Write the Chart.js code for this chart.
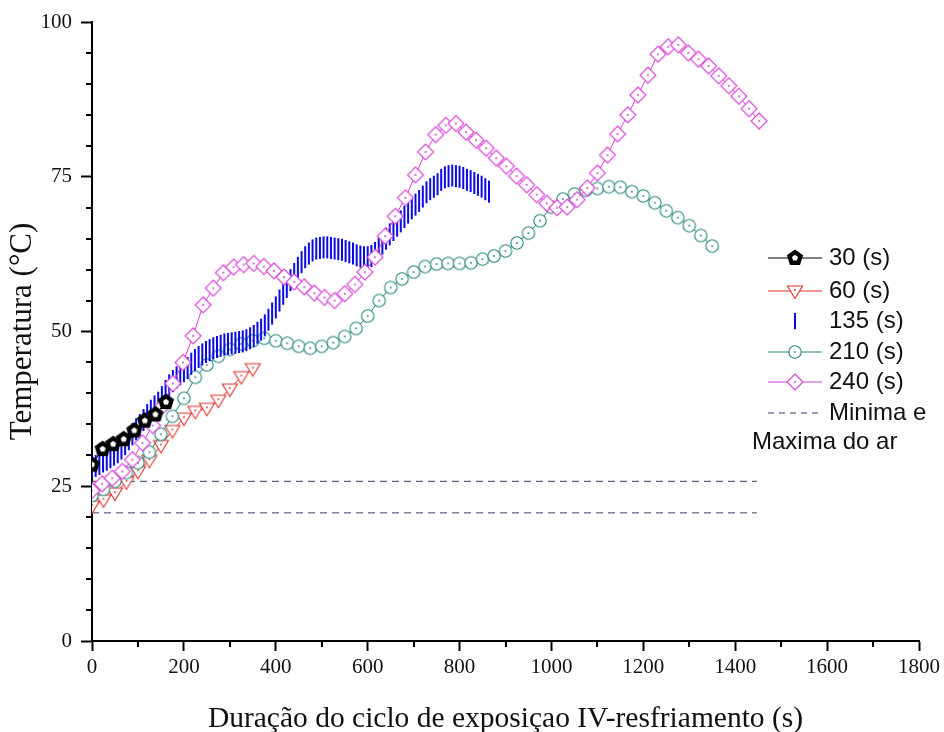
<!DOCTYPE html>
<html><head><meta charset="utf-8">
<script src="https://cdn.jsdelivr.net/npm/chart.js@4.4.1/dist/chart.umd.min.js"></script>
<style>html,body{margin:0;padding:0;background:#fff}#wrap{width:944px;height:732px;position:relative}</style>
</head><body><div id="wrap"><canvas id="c" width="944" height="732"></canvas></div>
<script>
// ---- data ----
const xTitle = 'Duração do ciclo de exposiçao IV-resfriamento (s)';
const yTitle = 'Temperatura (°C)';
const seriesLabels = ['30 (s)', '60 (s)', '135 (s)', '210 (s)', '240 (s)', 'Minima e Maxima do ar'];

const t30 = [0, 23, 46, 69, 92, 115, 138, 161];
const v30 = [28.5, 31.0, 31.8, 32.6, 34.0, 35.6, 36.6, 38.6];

const t60 = [0, 25, 50, 75, 100, 125, 150, 175, 200, 225, 250, 275, 300, 325, 350];
const v60 = [21.8, 22.8, 23.9, 25.7, 27.4, 29.2, 31.6, 34.0, 36.0, 37.1, 37.6, 38.9, 40.7, 42.7, 44.0];

const t135 = [0,8,16,24,32,40,48,56,64,72,80,88,96,104,112,120,128,136,144,152,160,168,176,184,192,200,208,216,224,232,240,248,256,264,272,280,288,296,304,312,320,328,336,344,352,360,368,376,384,392,400,408,416,424,432,440,448,456,464,472,480,488,496,504,512,520,528,536,544,552,560,568,576,584,592,600,608,616,624,632,640,648,656,664,672,680,688,696,704,712,720,728,736,744,752,760,768,776,784,792,800,808,816,824,832,840,848,856,864];
const v135 = [28.0,28.3,28.6,29.0,29.3,29.7,30.1,30.5,31.1,31.8,32.6,33.4,34.2,34.9,35.7,36.5,37.2,37.9,38.5,39.4,40.4,41.3,42.0,42.6,43.1,43.6,44.1,44.8,45.4,45.9,46.3,46.7,47.0,47.3,47.5,47.7,47.9,48.0,48.1,48.2,48.3,48.4,48.6,48.9,49.3,49.8,50.3,51.0,51.9,52.9,53.9,55.0,56.1,57.2,58.3,59.3,60.3,61.2,62.0,62.6,63.1,63.4,63.5,63.6,63.6,63.5,63.4,63.3,63.2,63.0,62.8,62.6,62.3,62.1,62.0,62.0,62.2,62.7,63.4,64.2,65.0,65.7,66.4,67.1,67.8,68.5,69.2,69.9,70.5,71.1,71.8,72.5,73.0,73.4,73.8,74.5,74.9,75.1,75.2,75.1,75.0,74.8,74.5,74.3,74.0,73.7,73.4,73.0,72.6];

const t210 = [0,25,50,75,100,125,150,175,200,225,250,275,300,325,350,375,400,425,450,475,500,525,550,575,600,625,650,675,700,725,750,775,800,825,850,875,900,925,950,975,1000,1025,1050,1075,1100,1125,1150,1175,1200,1225,1250,1275,1300,1325,1350];
const v210 = [23.5,24.5,25.8,27.2,28.8,30.5,33.4,36.3,39.2,42.6,44.6,46.0,47.1,48.0,48.5,48.9,48.5,48.1,47.6,47.3,47.6,48.2,49.2,50.5,52.5,55.0,57.1,58.5,59.6,60.5,60.9,61.0,61.0,61.1,61.7,62.2,63.0,64.3,65.9,67.9,70.1,71.4,72.2,72.8,73.1,73.4,73.3,72.6,71.9,70.8,69.5,68.4,67.1,65.5,63.8];

const t240 = [0,22,44,66,88,110,132,154,176,198,220,242,264,286,308,330,352,374,396,418,440,462,484,506,528,550,572,594,616,638,660,682,704,726,748,770,792,814,836,858,880,902,924,946,968,990,1012,1034,1056,1078,1100,1122,1144,1166,1188,1210,1232,1254,1276,1298,1320,1342,1364,1386,1408,1430,1452];
const v240 = [24.3,25.4,26.3,27.4,29.3,32.0,34.8,38.0,41.6,45.0,49.3,54.3,57.0,59.5,60.4,60.8,61.0,60.5,59.8,58.8,58.0,57.2,56.2,55.5,55.0,56.1,57.6,59.6,62.0,65.4,68.6,71.6,75.3,79.0,81.8,83.3,83.6,82.2,80.9,79.6,78.0,76.7,75.1,73.7,72.1,70.7,70.0,70.1,71.3,73.2,75.6,78.5,81.9,85.0,88.2,91.4,94.8,96.0,96.3,95.0,94.0,92.9,91.3,89.7,88.0,86.0,84.0];

const airT = [0, 1447];
const airMax = [25.8, 25.8];
const airMin = [20.7, 20.7];

const xTickValues = [0, 200, 400, 600, 800, 1000, 1200, 1400, 1600, 1800];
const yTickValues = [0, 25, 50, 75, 100];

// ---- styles ----
const COL = {k:'#000000', r:'#e2302a', b:'#0a0ae8', t:'#27857d', m:'#d640d6', d:'#3b3b6e'};
const pts = (t, v) => t.map((x, i) => ({x, y: v[i]}));

function marker(kind, color) {
  const s = 24, c = document.createElement('canvas');
  c.width = s; c.height = s;
  const g = c.getContext('2d'), m = s / 2;
  g.lineWidth = 1.1; g.strokeStyle = color; g.fillStyle = '#fff';
  if (kind === 'diamond') {
    g.beginPath(); g.moveTo(m, m - 8); g.lineTo(m + 8, m); g.lineTo(m, m + 8); g.lineTo(m - 8, m); g.closePath();
    g.fill(); g.stroke();
    g.fillStyle = color; g.beginPath(); g.arc(m, m, 1, 0, 7); g.fill();
  } else if (kind === 'circle') {
    g.beginPath(); g.arc(m, m, 6.2, 0, Math.PI * 2); g.fill(); g.stroke();
    g.fillStyle = color; g.beginPath(); g.arc(m, m, 0.9, 0, 7); g.fill();
  } else if (kind === 'tri') {
    g.beginPath(); g.moveTo(m - 7.5, m - 5); g.lineTo(m + 7.5, m - 5); g.lineTo(m, m + 7.5); g.closePath();
    g.fill(); g.stroke();
    g.fillStyle = color; g.beginPath(); g.arc(m, m - 1, 0.9, 0, 7); g.fill();
  } else if (kind === 'penta') {
    const poly = (r) => { g.beginPath(); for (let i = 0; i < 5; i++) { const a = -Math.PI / 2 + i * 2 * Math.PI / 5; const px = m + r * Math.cos(a), py = m + r * Math.sin(a); i ? g.lineTo(px, py) : g.moveTo(px, py); } g.closePath(); };
    g.fillStyle = color; poly(8.5); g.fill();
    g.fillStyle = '#fff'; poly(3.2); g.fill();
  } else if (kind === 'bar') {
    g.fillStyle = color; g.fillRect(m - 1, m - 11, 2, 22);
  }
  return c;
}
const MK = {
  k: marker('penta', COL.k), r: marker('tri', COL.r), b: marker('bar', COL.b),
  t: marker('circle', COL.t), m: marker('diamond', COL.m)
};

const datasets = [
  {label: seriesLabels[0], data: pts(t30, v30), borderColor: COL.k, borderWidth: 1, pointStyle: MK.k, pointRadius: 9, showLine: true, order: 0, _mk: MK.k},
  {label: seriesLabels[4], data: pts(t240, v240), borderColor: COL.m, borderWidth: 1, pointStyle: MK.m, pointRadius: 9, showLine: true, order: 1, _mk: MK.m},
  {label: seriesLabels[2], data: pts(t135, v135), borderColor: COL.b, borderWidth: 0, pointStyle: MK.b, pointRadius: 11, showLine: false, order: 2, _mk: MK.b},
  {label: seriesLabels[3], data: pts(t210, v210), borderColor: COL.t, borderWidth: 1, pointStyle: MK.t, pointRadius: 7, showLine: true, order: 3, _mk: MK.t},
  {label: seriesLabels[1], data: pts(t60, v60), borderColor: COL.r, borderWidth: 1, pointStyle: MK.r, pointRadius: 8, showLine: true, order: 4, _mk: MK.r},
  {label: seriesLabels[5], data: pts(airT, airMax), borderColor: COL.d, borderWidth: 1, borderDash: [7, 5], pointRadius: 0, showLine: true, order: 5},
  {label: '', data: pts(airT, airMin), borderColor: COL.d, borderWidth: 1, borderDash: [7, 5], pointRadius: 0, showLine: true, order: 6}
];
datasets.forEach(d => { d.fill = false; d.tension = 0; d.backgroundColor = d.borderColor; d.pointHoverRadius = d.pointRadius; });

const minorTicks = {
  id: 'minorTicks',
  afterDraw(chart) {
    const g = chart.ctx, xs = chart.scales.x, ys = chart.scales.y, a = chart.chartArea;
    g.save(); g.strokeStyle = '#000'; g.lineWidth = 2;
    for (let v = 5; v < 100; v += 5) {
      if (v % 25 === 0) continue;
      const y = Math.round(ys.getPixelForValue(v));
      g.beginPath(); g.moveTo(a.left - 6, y); g.lineTo(a.left, y); g.stroke();
    }
    for (let v = 100; v < 1800; v += 200) {
      const x = Math.round(xs.getPixelForValue(v));
      g.beginPath(); g.moveTo(x, a.bottom); g.lineTo(x, a.bottom + 6); g.stroke();
    }
    g.restore();
  }
};

const legendBox = {
  id: 'legendBox',
  afterDraw(chart) {
    const g = chart.ctx;
    const rows = [
      {ds: 0, y: 258}, {ds: 4, y: 291}, {ds: 2, y: 321}, {ds: 3, y: 352}, {ds: 1, y: 382}
    ];
    g.save();
    g.font = '24px "Liberation Sans", Arial, sans-serif';
    g.textBaseline = 'middle'; g.fillStyle = '#111';
    rows.forEach(r => {
      const d = chart.data.datasets[r.ds];
      if (d.showLine) {
        g.strokeStyle = d.borderColor; g.lineWidth = 1.2;
        g.beginPath(); g.moveTo(768, r.y); g.lineTo(822, r.y); g.stroke();
      }
      const img = d._mk;
      if (r.ds === 2) g.drawImage(img, 795 - img.width / 2, r.y - 9, img.width, 18);
      else g.drawImage(img, 795 - img.width / 2, r.y - img.height / 2);
      g.fillText(d.label, 829, r.y);
    });
    const dd = chart.data.datasets[5];
    g.strokeStyle = dd.borderColor; g.lineWidth = 1.2; g.setLineDash([6, 5]);
    g.beginPath(); g.moveTo(768, 413); g.lineTo(822, 413); g.stroke();
    g.setLineDash([]);
    const parts = dd.label.split(' e ');
    g.fillText(parts[0] + ' e', 829, 413);
    g.fillText(parts[1], 752, 442);
    g.restore();
  }
};

const serif = '"Liberation Serif", "Times New Roman", serif';
new Chart(document.getElementById('c'), {
  type: 'line',
  data: {datasets},
  plugins: [minorTicks, legendBox],
  options: {
    responsive: false, animation: false, devicePixelRatio: 1,
    layout: {padding: {left: 0, right: 25, top: 22, bottom: 0}},
    plugins: {legend: {display: false}, tooltip: {enabled: false}},
    scales: {
      x: {
        type: 'linear', min: 0, max: 1800,
        afterFit: s => { s.height = 91; },
        afterBuildTicks: s => { s.ticks = xTickValues.map(v => ({value: v})); },
        border: {display: true, color: '#000', width: 2},
        grid: {drawOnChartArea: false, drawTicks: true, tickLength: 10, tickWidth: 2, tickColor: '#000'},
        ticks: {autoSkip: false, maxRotation: 0, padding: 4, color: '#111', font: {family: serif, size: 21}, callback: v => String(v)},
        title: {display: true, text: xTitle, color: '#111', font: {family: serif, size: 29.5}, padding: {top: 0, bottom: -5}}
      },
      y: {
        type: 'linear', min: 0, max: 100,
        afterFit: s => { s.width = 92; },
        afterBuildTicks: s => { s.ticks = yTickValues.map(v => ({value: v})); },
        border: {display: true, color: '#000', width: 2},
        grid: {drawOnChartArea: false, drawTicks: true, tickLength: 11, tickWidth: 2, tickColor: '#000'},
        ticks: {autoSkip: false, padding: 9, color: '#111', font: {family: serif, size: 21}, callback: v => String(v)},
        title: {display: true, text: yTitle, color: '#111', font: {family: serif, size: 31}, padding: {top: 4, bottom: 0}}
      }
    }
  }
});
</script></body></html>
